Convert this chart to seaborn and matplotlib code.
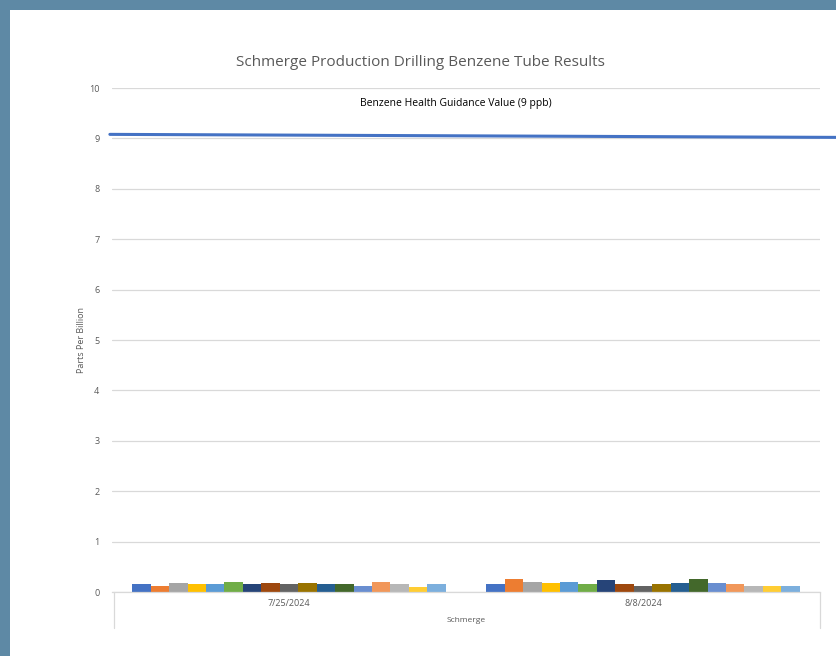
import matplotlib
matplotlib.use("Agg")
import matplotlib.pyplot as plt
import matplotlib.transforms as mtransforms
from matplotlib.patches import Rectangle
import seaborn as sns
import pandas as pd

dates = ["7/25/2024", "8/8/2024"]
samples = [f"Tube {i}" for i in range(1, 18)]
values_0725 = [0.15, 0.11, 0.17, 0.15, 0.15, 0.20, 0.15, 0.17, 0.15, 0.17, 0.15, 0.15, 0.11, 0.20, 0.15, 0.09, 0.15]
values_0808 = [0.15, 0.26, 0.20, 0.17, 0.20, 0.15, 0.23, 0.15, 0.11, 0.15, 0.17, 0.26, 0.17, 0.15, 0.11, 0.11, 0.11]
colors = ["#4472C4", "#ED7D31", "#A5A5A5", "#FFC000", "#5B9BD5", "#70AD47",
          "#264478", "#9E480E", "#636363", "#997300", "#255E91", "#43682B",
          "#698ED0", "#F1975A", "#B7B7B7", "#FFCD33", "#7CAFDD"]
yticks = list(range(0, 11))
guidance_label = "Benzene Health Guidance Value (9 ppb)"
guidance_line = [9.08, 9.02]
site = "Schmerge"
title = "Schmerge Production Drilling Benzene Tube Results"

rows = []
for d, vals in zip(dates, [values_0725, values_0808]):
    for s, v in zip(samples, vals):
        rows.append({"date": d, "sample": s, "ppb": v})
df = pd.DataFrame(rows)

sns.set_theme(style="white")
plt.rcParams["font.family"] = ["Open Sans", "DejaVu Sans"]

fig = plt.figure(figsize=(8.37, 6.56), dpi=100)
fig.patch.set_facecolor("white")
border = "#5E89A5"
fig.patches.append(Rectangle((0, 0), 10 / 837, 1, transform=fig.transFigure,
                             facecolor=border, edgecolor="none", zorder=0))
fig.patches.append(Rectangle((0, 1 - 10 / 656), 1, 10 / 656, transform=fig.transFigure,
                             facecolor=border, edgecolor="none", zorder=0))

ax = fig.add_axes([112 / 837, 1 - 592 / 656, (820 - 112) / 837, (592 - 88) / 656])
ax.set_facecolor("white")

sns.barplot(data=df, x="date", y="ppb", hue="sample", palette=colors, width=0.885,
            saturation=1, legend=False, linewidth=0, ax=ax, errorbar=None)

ax.set_ylim(0, 10)
ax.set_xlim(-0.5, 1.5)
ax.set_yticks(yticks)
ax.set_yticklabels([str(t) for t in yticks], color="#595959", fontsize=6.5)
ax.grid(axis="y", color="#D9D9D9", linewidth=0.9)
ax.set_axisbelow(True)
for sp in ["top", "right", "left"]:
    ax.spines[sp].set_visible(False)
ax.spines["bottom"].set_color("#D9D9D9")
ax.spines["bottom"].set_linewidth(0.9)
ax.tick_params(axis="y", length=0, pad=9)
ax.tick_params(axis="x", length=0, pad=5, labelsize=6.5, labelcolor="#595959")

ax.set_xlabel("")
ax.set_ylabel("Parts Per Billion", fontsize=6.5, color="#595959", labelpad=2)

# multi-level category axis box
trans_ax = ax.transAxes
for xa in [0.003, 1.0]:
    ax.plot([xa, xa], [0, -36 / 504], transform=trans_ax, color="#D9D9D9",
            linewidth=0.9, clip_on=False)
ax.text(0.5, -28 / 504, site, transform=trans_ax, ha="center", va="center",
        fontsize=6, color="#595959")

# guidance line
blend = mtransforms.blended_transform_factory(ax.transAxes, ax.transData)
ax.plot([-0.003, 1.024], guidance_line, transform=blend, color="#4472C4",
        linewidth=2.2, clip_on=False, zorder=5)
ax.text(0.485, 9.8, guidance_label, transform=blend, ha="center", va="top",
        fontsize=7.5, color="black")

fig.text(420 / 837, 1 - 62 / 656, title, ha="center", va="center",
         fontsize=11, color="#595959")

fig.savefig("out.png", dpi=100, facecolor=fig.get_facecolor())
